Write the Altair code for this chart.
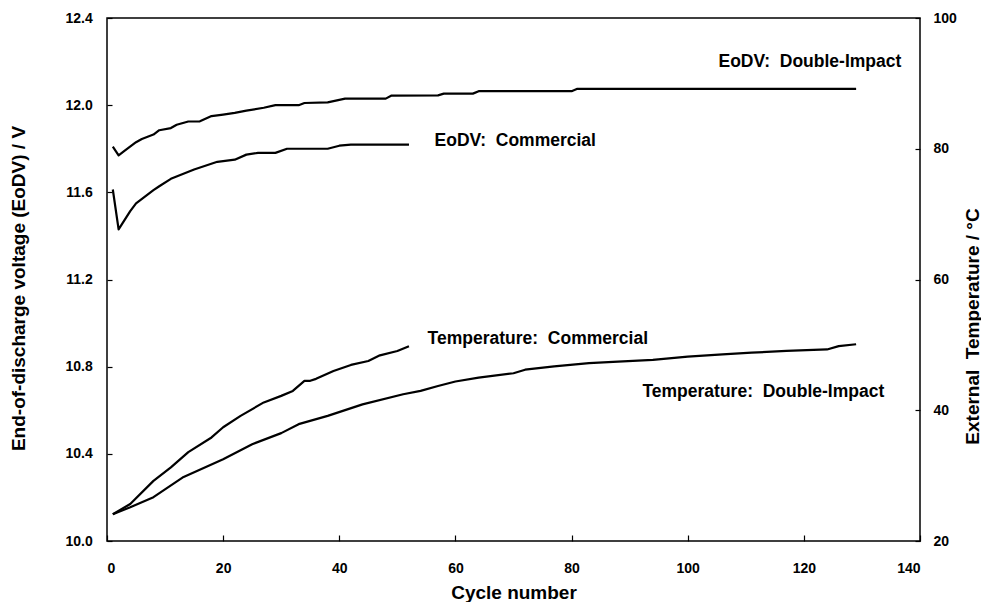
import altair as alt
import pandas as pd

# ---------------- data ----------------
# End-of-discharge voltage, Double-Impact battery
eodv_di_cycle = [1, 2, 3, 5, 6, 8, 9, 11, 12, 14, 16, 18, 20, 22, 24, 27, 29, 33, 34, 38,
                 41, 48, 49, 57, 58, 63, 64, 80, 81, 129]
eodv_di_v = [11.81, 11.77, 11.79, 11.83, 11.845, 11.865, 11.885, 11.895, 11.91, 11.925,
             11.926, 11.95, 11.957, 11.965, 11.975, 11.988, 12.0, 12.0, 12.01, 12.013,
             12.03, 12.03, 12.044, 12.045, 12.053, 12.053, 12.064, 12.064, 12.075, 12.075]

# End-of-discharge voltage, Commercial battery
eodv_com_cycle = [1, 2, 4, 5, 8, 9, 11, 15, 19, 22, 24, 26, 29, 31, 38, 40, 42, 52]
eodv_com_v = [11.613, 11.43, 11.514, 11.549, 11.61, 11.628, 11.662, 11.705, 11.74, 11.75,
              11.773, 11.781, 11.781, 11.80, 11.80, 11.814, 11.819, 11.819]

# External temperature, Commercial battery
temp_com_cycle = [1, 4, 8, 11, 14, 18, 20, 23, 27, 30, 32, 34, 35, 36, 39, 42, 45, 47, 50, 52]
temp_com_t = [24.1, 25.65, 29.2, 31.26, 33.6, 35.84, 37.4, 39.14, 41.2, 42.2, 42.96, 44.5,
              44.5, 44.8, 46.0, 46.93, 47.54, 48.4, 49.07, 49.8]

# External temperature, Double-Impact battery
temp_di_cycle = [1, 4, 8, 13, 20, 25, 30, 33, 38, 44, 51, 54, 57, 60, 64, 70, 72, 77, 83,
                 88, 94, 100, 106, 111, 117, 124, 126, 129]
temp_di_t = [24.1, 25.15, 26.7, 29.7, 32.5, 34.8, 36.5, 37.87, 39.14, 40.9, 42.45, 42.96,
             43.7, 44.4, 45.0, 45.66, 46.2, 46.7, 47.2, 47.45, 47.7, 48.2, 48.56, 48.8,
             49.07, 49.3, 49.8, 50.1]

# annotations (label text, cycle of left edge, voltage-scale height)
ann_text = ["EoDV:\u00a0 Double-Impact", "EoDV:\u00a0 Commercial",
            "Temperature:\u00a0 Commercial", "Temperature:\u00a0 Double-Impact"]
ann_cycle = [105.3, 56.4, 55.2, 92.2]
ann_v = [12.197, 11.834, 10.925, 10.683]

# axis tick values
x_ticks = [0, 20, 40, 60, 80, 100, 120, 140]
v_ticks = [10.0, 10.4, 10.8, 11.2, 11.6, 12.0, 12.4]
t_ticks = [20, 40, 60, 80, 100]

# ---------------- chart ----------------
W, H = 813, 523

xscale = alt.Scale(domain=[0, 140], nice=False, zero=False)
vscale = alt.Scale(domain=[10.0, 12.4], nice=False, zero=False)
tscale = alt.Scale(domain=[20, 100], nice=False, zero=False)

x_axis = alt.Axis(values=x_ticks, title="Cycle number", orient="bottom",
                  offset=-6, tickSize=6, labelPadding=20, titlePadding=8)

volt_df = pd.concat([
    pd.DataFrame({"cycle": eodv_di_cycle, "v": eodv_di_v, "series": "EoDV Double-Impact"}),
    pd.DataFrame({"cycle": eodv_com_cycle, "v": eodv_com_v, "series": "EoDV Commercial"}),
])
temp_df = pd.concat([
    pd.DataFrame({"cycle": temp_com_cycle, "t": temp_com_t, "series": "Temp Commercial"}),
    pd.DataFrame({"cycle": temp_di_cycle, "t": temp_di_t, "series": "Temp Double-Impact"}),
])
ann_df = pd.DataFrame({"cycle": ann_cycle, "v": ann_v, "label": ann_text})

line_style = dict(color="black", strokeWidth=2.2, strokeJoin="round")

volt_lines = alt.Chart(volt_df).mark_line(**line_style).encode(
    x=alt.X("cycle:Q", scale=xscale, axis=x_axis),
    y=alt.Y("v:Q", scale=vscale,
            axis=alt.Axis(values=v_ticks, format=".1f", orient="left",
                          title="End-of-discharge voltage (EoDV) / V",
                          offset=-5, tickSize=5, labelPadding=14.7,
                          titleX=-94, titleY=270, titleAngle=270,
                          titleBaseline="middle", titleAlign="center")),
    detail="series:N",
)

labels = alt.Chart(ann_df).mark_text(align="left", baseline="middle", fontSize=17.5,
                                     fontWeight="bold", color="black").encode(
    x=alt.X("cycle:Q", scale=xscale, axis=x_axis),
    y=alt.Y("v:Q", scale=vscale, axis=None),
    text="label:N",
)

temp_lines = alt.Chart(temp_df).mark_line(**line_style).encode(
    x=alt.X("cycle:Q", scale=xscale, axis=x_axis),
    y=alt.Y("t:Q", scale=tscale,
            axis=alt.Axis(values=t_ticks, orient="right",
                          offset=-5, tickSize=5, labelPadding=13,
                          title="External\u00a0 Temperature / °C", titleAngle=270,
                          titleX=57, titleY=308, titleBaseline="middle",
                          titleAlign="center")),
    detail="series:N",
)

chart = (
    alt.layer(volt_lines, labels, temp_lines)
    .resolve_scale(y="independent")
    .properties(width=W, height=H,
                autosize=alt.AutoSizeParams(type="none"),
                padding={"left": 99, "top": 10, "right": 61, "bottom": 61})
    .configure(font="Liberation Sans")
    .configure_view(stroke="black", strokeWidth=1.5)
    .configure_axis(domain=False, grid=False, tickColor="black", tickWidth=1.2,
                    labelColor="black", labelFontSize=14, labelFontWeight="bold",
                    labelFont="Liberation Sans", titleFont="Liberation Sans",
                    titleColor="black", titleFontSize=19, titleFontWeight="bold")
)

chart.save("out.html", embed_options={"renderer": "svg", "actions": False})
